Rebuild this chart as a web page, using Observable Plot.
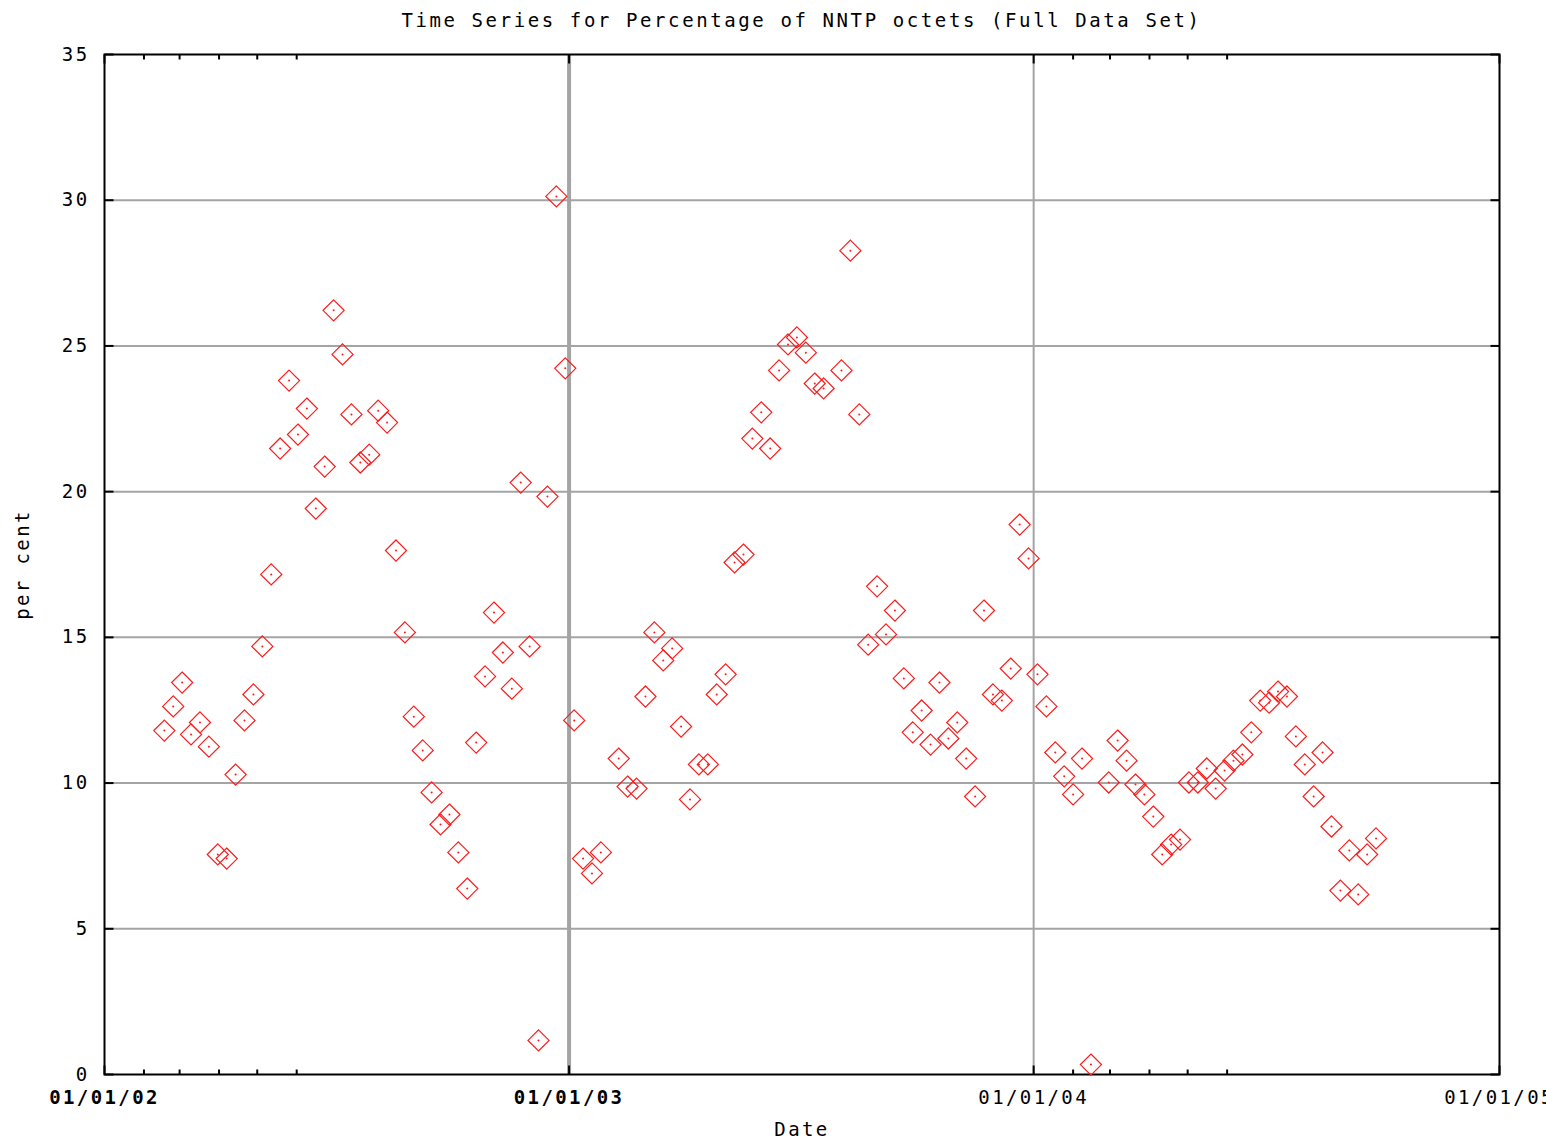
<!DOCTYPE html>
<html>
<head>
<meta charset="utf-8">
<script src="https://cdn.jsdelivr.net/npm/d3@7"></script>
<script src="https://cdn.jsdelivr.net/npm/@observablehq/plot@0.6"></script>
<style>
  html, body { margin: 0; padding: 0; background: #fff; }
  body { width: 1546px; height: 1144px; overflow: hidden; font-family: "DejaVu Sans Mono", monospace; }
  #title {
    box-sizing: border-box; width: 1546px; height: 40px; line-height: 40px;
    padding-left: 57px; text-align: center; font-size: 19px; letter-spacing: 2.6px; color: #000;
    white-space: pre;
  }
  #chart svg text { letter-spacing: 2.4px; }
</style>
</head>
<body>
<div id="title">Time Series for Percentage of NNTP octets (Full Data Set)</div>
<div id="chart"></div>
<script>
// Weekly samples (week-ending Sunday) of NNTP share of total octets, in per cent
const weeks = [
  "2002-02-17","2002-02-24","2002-03-03","2002-03-10","2002-03-17","2002-03-24","2002-03-31","2002-04-07","2002-04-14","2002-04-21",
  "2002-04-28","2002-05-05","2002-05-12","2002-05-19","2002-05-26","2002-06-02","2002-06-09","2002-06-16","2002-06-23","2002-06-30",
  "2002-07-07","2002-07-14","2002-07-21","2002-07-28","2002-08-04","2002-08-11","2002-08-18","2002-08-25","2002-09-01","2002-09-08",
  "2002-09-15","2002-09-22","2002-09-29","2002-10-06","2002-10-13","2002-10-20","2002-10-27","2002-11-03","2002-11-10","2002-11-17",
  "2002-11-24","2002-12-01","2002-12-08","2002-12-15","2002-12-22","2002-12-29","2003-01-05","2003-01-12","2003-01-19","2003-01-26",
  "2003-02-09","2003-02-16","2003-02-23","2003-03-02","2003-03-09","2003-03-16","2003-03-23","2003-03-30","2003-04-06","2003-04-13",
  "2003-04-20","2003-04-27","2003-05-04","2003-05-11","2003-05-18","2003-05-25","2003-06-01","2003-06-08","2003-06-15","2003-06-22",
  "2003-06-29","2003-07-06","2003-07-13","2003-07-20",
  "2003-08-03","2003-08-10","2003-08-17","2003-08-24","2003-08-31","2003-09-07","2003-09-14","2003-09-21","2003-09-28","2003-10-05",
  "2003-10-12","2003-10-19","2003-10-26","2003-11-02","2003-11-09","2003-11-16","2003-11-23","2003-11-30","2003-12-07","2003-12-14",
  "2003-12-21","2003-12-28","2004-01-04","2004-01-11","2004-01-18","2004-01-25","2004-02-01","2004-02-08","2004-02-15",
  "2004-02-29","2004-03-07","2004-03-14","2004-03-21","2004-03-28","2004-04-04","2004-04-11","2004-04-18","2004-04-25","2004-05-02",
  "2004-05-09","2004-05-16","2004-05-23","2004-05-30","2004-06-06","2004-06-13","2004-06-20","2004-06-27","2004-07-04","2004-07-11",
  "2004-07-18","2004-07-25","2004-08-01","2004-08-08","2004-08-15","2004-08-22","2004-08-29","2004-09-05","2004-09-12","2004-09-19",
  "2004-09-26"
];

const percent = [
  11.80, 12.63, 13.45, 11.67, 12.08, 11.25, 7.55, 7.41, 10.29, 12.15,
  13.04, 14.69, 17.16, 21.48, 23.81, 21.96, 22.85, 19.42, 20.86, 26.22,
  24.71, 22.65, 21.00, 21.27, 22.78, 22.37, 17.98, 15.17, 12.28, 11.12,
  9.68, 8.58, 8.92, 7.62, 6.38, 11.39, 13.66, 15.85, 14.48, 13.24,
  20.31, 14.69, 1.17, 19.83, 30.13, 24.23, 12.15, 7.41, 6.90, 7.62,
  10.84, 9.88, 9.81, 12.97, 15.17, 14.21, 14.62, 11.94, 9.44, 10.64,
  10.64, 13.04, 13.73, 17.57, 17.84, 21.82, 22.72, 21.48, 24.16, 25.05,
  25.29, 24.77, 23.71, 23.54,
  24.16, 28.27, 22.65, 14.75, 16.75, 15.10, 15.92, 13.59, 11.74, 12.49,
  11.32, 13.45, 11.53, 12.08, 10.84, 9.54, 15.92, 13.04, 12.83, 13.93,
  18.87, 17.71, 13.73, 12.63, 11.05, 10.23, 9.61, 10.84, 0.34,
  10.02, 11.46, 10.77, 9.95, 9.61, 8.85, 7.55, 7.89, 8.06, 10.02,
  10.02, 10.50, 9.81, 10.43, 10.77, 10.98, 11.74, 12.83, 12.76, 13.14,
  12.97, 11.60, 10.64, 9.54, 11.05, 8.51, 6.31, 7.69, 6.18, 7.55,
  8.10
];

// Axis ticks and labels
const yTicks = [0, 5, 10, 15, 20, 25, 30, 35];
const yGrid = [5, 10, 15, 20, 25, 30];
const xTicks = ["2002-01-01", "2003-01-01", "2004-01-01", "2005-01-01"];
const xTickLabels = ["01/01/02", "01/01/03", "01/01/04", "01/01/05"];
const xMinorTicks = [
  "2002-02-01", "2002-03-01", "2002-04-01", "2002-05-01", "2002-06-01",
  "2004-02-01", "2004-03-01", "2004-04-01", "2004-05-01", "2004-06-01"
];

const data = weeks.map((w, i) => ({date: new Date(w), value: percent[i]}));
const xMajor = xTicks.map((d, i) => ({date: new Date(d), label: xTickLabels[i]}));
const xMinor = xMinorTicks.map(d => new Date(d));
const x0 = new Date(xTicks[0]), x1 = new Date(xTicks[xTicks.length - 1]);
const split = new Date(xTicks[2]);

// Short stroke used for inward tick marks on the frame
const stub = (dx, dy) => ({draw(ctx) { ctx.moveTo(0, 0); ctx.lineTo(dx, dy); }});
const ink = "#000";

const chart = Plot.plot({
  width: 1546,
  height: 1104,
  marginTop: 14,
  marginBottom: 70,
  marginLeft: 104,
  marginRight: 47,
  style: {fontFamily: "DejaVu Sans Mono, monospace", fontSize: "19px", background: "#fff", color: "#000"},
  x: {type: "utc", domain: [x0, x1], axis: null},
  y: {domain: [0, 35], axis: null},
  marks: [
    // grid
    Plot.ruleY(yGrid, {stroke: "#a4a4a4", strokeWidth: 2}),
    Plot.ruleX([new Date(xTicks[1])], {stroke: "#a4a4a4", strokeWidth: 4}),
    Plot.ruleX([new Date(xTicks[2])], {stroke: "#a4a4a4", strokeWidth: 2}),
    // tick marks, left/right
    Plot.dot(yTicks, {x: () => x0, y: d => d, symbol: stub(9, 0), fill: "none", stroke: ink, strokeWidth: 2}),
    Plot.dot(yTicks, {x: () => x1, y: d => d, symbol: stub(-9, 0), fill: "none", stroke: ink, strokeWidth: 2}),
    // tick marks, bottom/top
    Plot.dot(xMajor, {x: "date", y: () => 0, symbol: stub(0, -9), fill: "none", stroke: ink, strokeWidth: 2}),
    Plot.dot(xMajor, {x: "date", y: () => 35, symbol: stub(0, 9), fill: "none", stroke: ink, strokeWidth: 2}),
    Plot.dot(xMinor, {x: d => d, y: () => 0, symbol: stub(0, -5), fill: "none", stroke: ink, strokeWidth: 2}),
    Plot.dot(xMinor, {x: d => d, y: () => 35, symbol: stub(0, 5), fill: "none", stroke: ink, strokeWidth: 2}),
    Plot.frame({stroke: ink, strokeWidth: 2}),
    // tick labels
    Plot.text(yTicks, {x: () => x0, y: d => d, text: d => String(d), textAnchor: "end", dx: -15, fill: ink}),
    Plot.text(xMajor.filter(d => d.date < split), {x: "date", y: () => 0, text: "label", dy: 23, fill: ink, fontWeight: "bold"}),
    Plot.text(xMajor.filter(d => d.date >= split), {x: "date", y: () => 0, text: "label", dy: 23, fill: ink}),
    // axis titles
    Plot.text(["Date"], {frameAnchor: "bottom", lineAnchor: "middle", dy: 55, fill: ink}),
    Plot.text(["per cent"], {frameAnchor: "left", textAnchor: "middle", dx: -82, rotate: -90, fill: ink}),
    // observations
    Plot.dot(data, {x: "date", y: "value", symbol: "diamond2", r: 9.5, fill: "none", stroke: "#ff1a1a", strokeWidth: 1.2}),
    Plot.dot(data, {x: "date", y: "value", r: 1, fill: "#ff1a1a", stroke: "none"})
  ]
});

document.getElementById("chart").append(chart);
</script>
</body>
</html>
